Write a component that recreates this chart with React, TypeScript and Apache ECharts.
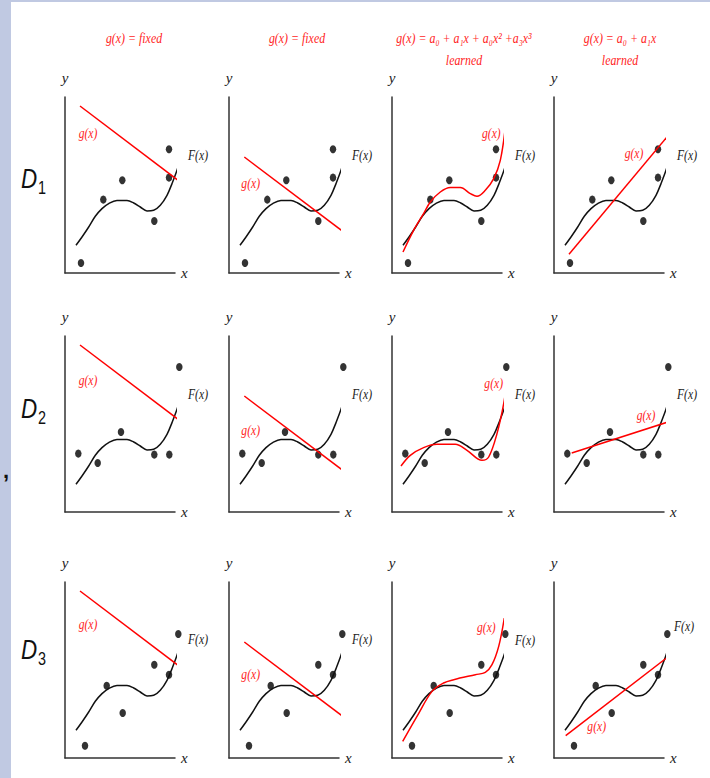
import React, { useEffect, useRef } from "react";
import * as echarts from "echarts";

// True function F(x) (same in every panel) (x: 0..110, y: 0..176 data units)
const F_X = [11, 17, 23.7, 30.3, 37, 43.7, 52, 62, 68.7, 75.3, 82, 88.7, 95.3, 102, 107, 112, 116.3];
const F_Y = [27.7, 36, 46, 56.7, 64.4, 69.4, 72.4, 72.4, 70, 66, 62, 62.7, 67.7, 77.7, 89.4, 102.7, 117.7];

// Training sets D1, D2, D3
const D1_X = [16, 38.3, 57.3, 89.3, 104, 104];
const D1_Y = [10, 73.4, 92.7, 52, 95.4, 123.7];
const D2_X = [13.3, 32.7, 56, 89.3, 104.3, 114.3];
const D2_Y = [58.4, 49, 80, 57.4, 57.4, 145];
const D3_X = [20, 41.7, 57.7, 89.3, 104, 113.3];
const D3_Y = [12.3, 72.3, 45, 93.3, 83.3, 124];

// Fixed models g(x) (columns 1 and 2)
const FIXED_A_X = [15, 116.7];
const FIXED_A_Y = [167, 90];
const FIXED_B_X = [15.3, 116];
const FIXED_B_Y = [116, 40];

// Learned cubic models (column 3)
const CUBIC1_X = [11, 21.6, 31.6, 38.3, 48.3, 58.3, 68.3, 78.3, 85, 93.3, 101.7, 108.3, 113.3];
const CUBIC1_Y = [21, 42.7, 59.4, 71, 81, 85.4, 85.4, 79.4, 76.7, 82.7, 94.4, 112.7, 145.4];
const CUBIC2_X = [9, 18.3, 31.6, 45, 63.3, 75, 90, 96.7, 105, 111.7, 115];
const CUBIC2_Y = [46, 56.7, 64.4, 67.7, 67.7, 61.7, 51.7, 55, 78.4, 108.4, 131.7];
const CUBIC3_X = [10.7, 25, 40, 51.6, 61.7, 83.3, 93.3, 100, 106.7, 112.3];
const CUBIC3_Y = [16.6, 41.6, 66.6, 75, 78.3, 83.3, 85.6, 93.3, 111.6, 140];

// Learned linear models (column 4)
const LIN1_X = [15, 114.3];
const LIN1_Y = [18.7, 137.7];
const LIN2_X = [17.7, 116];
const LIN2_Y = [59, 90.7];
const LIN3_X = [11.7, 122];
const LIN3_Y = [22.3, 107.3];

// Texts
const COLUMN_TITLES = ["g(x) = fixed", "g(x) = fixed", "g(x) = a₀ + a₁x + a₀x² +a₃x³", "g(x) = a₀ + a₁x"];
const COLUMN_SUBTITLES = ["", "", "learned", "learned"];
const ROW_SUBSCRIPTS = ["1", "2", "3"];

// Label anchors (data units), row-major panels
const G_LABEL_AT = [
  [23, 139.7], [21.7, 89.4], [99.3, 139.4], [80, 119.4],
  [23, 131.7], [21.7, 81.7], [101.7, 128.4], [92, 96.7],
  [23, 133.3], [21.7, 83.3], [94.3, 130], [42.7, 31.6],
];
const F_LABEL_AT = [
  [133, 117.7], [133, 117.7], [133, 117.7], [133, 117.7],
  [133, 117], [133, 117], [133, 117], [133, 117],
  [133, 118], [133, 118], [133, 117], [130, 131],
];

const zip = (xs: number[], ys: number[]) => xs.map((x, i) => [x, ys[i]]);

const DOTS = [zip(D1_X, D1_Y), zip(D2_X, D2_Y), zip(D3_X, D3_Y)];
const CUBICS = [zip(CUBIC1_X, CUBIC1_Y), zip(CUBIC2_X, CUBIC2_Y), zip(CUBIC3_X, CUBIC3_Y)];
const LINS = [zip(LIN1_X, LIN1_Y), zip(LIN2_X, LIN2_Y), zip(LIN3_X, LIN3_Y)];

// Layout
const W = 710;
const H = 778;
const COL_X = [65, 229, 392, 554];
const ROW_TOP = [97, 336, 582];
const PANEL_W = 110;
const PANEL_H = 176;
const RED = "#ff0000";
const RED_TEXT = "#ff2424";
const SERIF = "'Liberation Serif', 'DejaVu Serif', serif";

export default function App() {
  const ref = useRef<HTMLDivElement>(null);

  useEffect(() => {
    const chart = echarts.init(ref.current!, null, { renderer: "svg" });
    const grid: any[] = [];
    const xAxis: any[] = [];
    const yAxis: any[] = [];
    const series: any[] = [];
    const nameStyle = { fontFamily: SERIF, fontStyle: "italic", fontSize: 15, color: "#222" };

    for (let r = 0; r < 3; r++) {
      for (let c = 0; c < 4; c++) {
        const idx = r * 4 + c;
        grid.push({ left: COL_X[c], top: ROW_TOP[r], width: PANEL_W, height: PANEL_H });
        xAxis.push({
          gridIndex: idx, type: "value", min: 0, max: 110,
          axisLine: { show: true, onZero: false, lineStyle: { color: "#333", width: 1.5 } },
          axisTick: { show: false }, axisLabel: { show: false }, splitLine: { show: false },
          name: "x", nameLocation: "end", nameGap: 6, nameTextStyle: nameStyle,
        });
        yAxis.push({
          gridIndex: idx, type: "value", min: 0, max: 176,
          axisLine: { show: true, onZero: false, lineStyle: { color: "#333", width: 1.5 } },
          axisTick: { show: false }, axisLabel: { show: false }, splitLine: { show: false },
          name: "y", nameLocation: "end", nameGap: 12, nameTextStyle: nameStyle,
        });
        series.push({
          type: "line", xAxisIndex: idx, yAxisIndex: idx, data: zip(F_X, F_Y),
          smooth: 0.35, symbol: "none", clip: false, silent: true,
          lineStyle: { color: "#111", width: 1.5 },
        });
        let red: number[][];
        if (c === 0) red = zip(FIXED_A_X, FIXED_A_Y);
        else if (c === 1) red = zip(FIXED_B_X, FIXED_B_Y);
        else if (c === 2) red = CUBICS[r];
        else red = LINS[r];
        series.push({
          type: "line", xAxisIndex: idx, yAxisIndex: idx, data: red,
          smooth: c === 2 ? 0.35 : false, symbol: "none", clip: false, silent: true,
          lineStyle: { color: RED, width: 1.5 },
        });
        series.push({
          type: "scatter", xAxisIndex: idx, yAxisIndex: idx, data: DOTS[r],
          symbol: "circle", symbolSize: [6.5, 8], clip: false, silent: true,
          itemStyle: { color: "#000" },
        });
      }
    }

    chart.setOption({
      animation: false,
      backgroundColor: "#ffffff",
      grid, xAxis, yAxis, series,
    });

    const graphic: any[] = [
      { type: "rect", shape: { x: 0, y: 0, width: 11, height: H }, style: { fill: "#c0c9e2" }, silent: true },
      { type: "rect", shape: { x: 0, y: 0, width: W, height: 2 }, style: { fill: "#c0c9e2" }, silent: true },
      {
        type: "text", x: 3, y: 470, silent: true,
        style: { text: ",", fontFamily: "'Liberation Sans', sans-serif", fontWeight: "bold", fontSize: 22, fill: "#111", verticalAlign: "middle" },
      },
    ];

    const headerCenters = [134, 297, 464, 620];
    for (let c = 0; c < 4; c++) {
      graphic.push({
        type: "text", x: headerCenters[c], y: 38, scaleX: 0.85, silent: true,
        style: { text: COLUMN_TITLES[c], fontFamily: SERIF, fontStyle: "italic", fontSize: 14, fill: RED_TEXT, align: "center", verticalAlign: "middle" },
      });
      if (COLUMN_SUBTITLES[c]) {
        graphic.push({
          type: "text", x: headerCenters[c], y: 60, scaleX: 0.85, silent: true,
          style: { text: COLUMN_SUBTITLES[c], fontFamily: SERIF, fontStyle: "italic", fontSize: 14, fill: RED_TEXT, align: "center", verticalAlign: "middle" },
        });
      }
    }

    const dCenters = [178, 408, 649];
    for (let r = 0; r < 3; r++) {
      graphic.push({
        type: "text", x: 21, y: dCenters[r], scaleX: 0.8, silent: true,
        style: { text: "D", fontFamily: "'Liberation Sans', 'DejaVu Sans', sans-serif", fontStyle: "italic", fontSize: 28, fill: "#111", align: "left", verticalAlign: "middle" },
      });
      graphic.push({
        type: "text", x: 38, y: dCenters[r] + 9, scaleX: 0.8, silent: true,
        style: { text: ROW_SUBSCRIPTS[r], fontFamily: "'Liberation Sans', 'DejaVu Sans', sans-serif", fontSize: 18, fill: "#111", align: "left", verticalAlign: "middle" },
      });
    }

    for (let idx = 0; idx < 12; idx++) {
      const g = chart.convertToPixel({ gridIndex: idx }, G_LABEL_AT[idx]) as number[];
      graphic.push({
        type: "text", x: g[0], y: g[1], scaleX: 0.83, silent: true,
        style: { text: "g(x)", fontFamily: SERIF, fontStyle: "italic", fontSize: 14, fill: RED_TEXT, align: "center", verticalAlign: "middle" },
      });
      const f = chart.convertToPixel({ gridIndex: idx }, F_LABEL_AT[idx]) as number[];
      graphic.push({
        type: "text", x: f[0], y: f[1], scaleX: 0.83, silent: true,
        style: { text: "F(x)", fontFamily: SERIF, fontStyle: "italic", fontSize: 14, fill: "#222", align: "center", verticalAlign: "middle" },
      });
    }

    chart.setOption({ graphic });

    return () => chart.dispose();
  }, []);

  return (
    <div
      ref={ref}
      style={{ position: "absolute", left: 0, top: 0, width: W, height: H }}
    />
  );
}
